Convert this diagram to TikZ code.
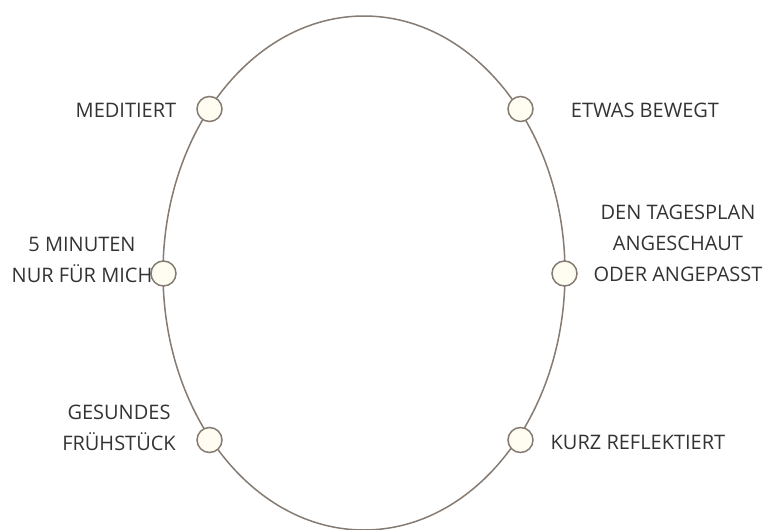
\documentclass[tikz,border=0pt]{standalone}
\usepackage{fontspec}
\setmainfont{Open Sans}
\definecolor{ringc}{HTML}{857B72}
\definecolor{dotfill}{HTML}{FFFCF2}
\definecolor{txt}{HTML}{333333}
\begin{document}
\begin{tikzpicture}[x=1pt,y=-1pt,
  ring/.style={draw=ringc,line width=1.5pt},
  dot/.style={circle,draw=ringc,fill=dotfill,line width=1.5pt,minimum size=25pt,inner sep=0pt},
  lab/.style={text=txt,font=\fontsize{20}{31}\selectfont,align=center,inner sep=0pt}]
\useasboundingbox (0,0) rectangle (769,530);
\draw[ring] (364,273) ellipse [x radius=201pt, y radius=257pt];
\node[dot] (d1) at (209.5,109) {};
\node[dot] (d2) at (520.5,109) {};
\node[dot] (d3) at (163.5,273.5) {};
\node[dot] (d4) at (564.5,273.5) {};
\node[dot] (d5) at (209.5,440) {};
\node[dot] (d6) at (520.5,440) {};
\node[lab] (l1) at (126,110) {MEDITIERT};
\node[lab] (l2) at (645,110) {ETWAS BEWEGT};
\node[lab] (l3) at (82,260) {5 MINUTEN\\NUR FÜR MICH};
\node[lab] (l4) at (678,243) {DEN TAGESPLAN\\ANGESCHAUT\\ODER ANGEPASST};
\node[lab] (l5) at (119,428) {GESUNDES\\FRÜHSTÜCK};
\node[lab] (l6) at (638,442) {KURZ REFLEKTIERT};
\end{tikzpicture}
\end{document}
